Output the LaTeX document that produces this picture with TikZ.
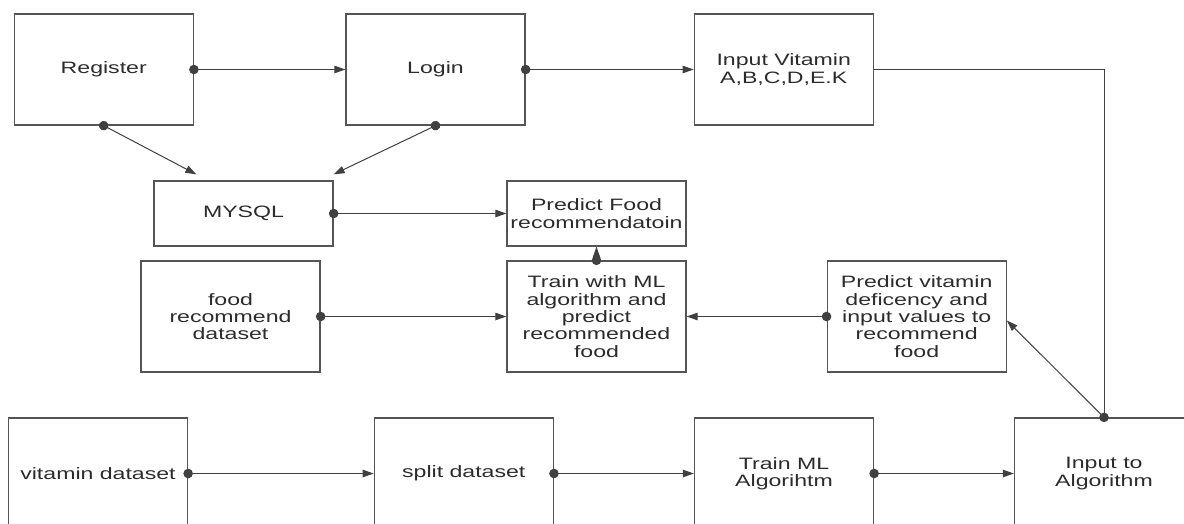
\documentclass[tikz,border=0pt]{standalone}
\usepackage{fontspec}
\setmainfont{Liberation Sans}[FakeStretch=1.4]
\usetikzlibrary{arrows.meta,calc}
\definecolor{linec}{HTML}{404040}
\definecolor{boxc}{HTML}{555555}
\definecolor{txtc}{HTML}{2B2B2B}
\begin{document}
\begin{tikzpicture}[x=1pt,y=-1pt,
  box/.style={draw=boxc, line width=1.3pt, rectangle, minimum width=179pt, minimum height=111pt, inner sep=0pt, align=center, text=txtc, font=\fontsize{16.5}{17.4}\selectfont},
  flatbox/.style={box, minimum height=65pt},
  conn/.style={draw=linec, line width=1pt, {Circle[length=9.5pt]}-{Triangle[length=11pt,width=7.5pt]}, shorten <=-4.75pt},
  plainline/.style={draw=linec, line width=1pt}]
\useasboundingbox (0,0) rectangle (1184,523);
\clip (0,0) rectangle (1184,523);
% top row
\node[box] (reg) at (103.75,69.5) {Register};
\node[box] (login) at (435.5,69.5) {Login};
\node[box] (inv) at (783.75,69.5) {Input Vitamin\\A,B,C,D,E.K};
% second row
\node[flatbox] (mysql) at (243.5,213.5) {MYSQL};
\node[flatbox] (pf) at (596.5,213.5) {Predict Food\\recommendatoin};
% third row
\node[box] (food) at (230.5,316.5) {food\\recommend\\dataset};
\node[box] (train) at (596.5,316.5) {Train with ML\\algorithm and\\predict\\recommended\\food};
\node[box] (pv) at (916.7,316.5) {Predict vitamin\\deficency and\\input values to\\recommend\\food};
% bottom row
\node[box] (vit) at (98,473.5) {vitamin dataset};
\node[box] (split) at (463.8,473.5) {split dataset};
\node[box] (tml) at (784,473.5) {Train ML\\Algorihtm};
\node[box] (ita) at (1104,473.5) {Input to\\Algorithm};
% free ends
\coordinate (m1) at ($(mysql.north west)+(43,-6)$);
\coordinate (m2) at ($(mysql.north east)+(0,-6)$);
\coordinate (pvin) at ($(pv.east)+(0,4)$);
% connectors
\draw[conn] (reg.east) -- (login.west);
\draw[conn] (login.east) -- (inv.west);
\draw[plainline] (inv.east) -| (ita.north);
\draw[conn] (reg.south) -- (m1);
\draw[conn] (login.south) -- (m2);
\draw[conn] (mysql.east) -- (pf.west);
\draw[conn] (train.north) -- (pf.south);
\draw[conn] (food.east) -- (train.west);
\draw[conn] (pv.west) -- (train.east);
\draw[conn] (ita.north) -- (pvin);
\draw[conn] (vit.east) -- (split.west);
\draw[conn] (split.east) -- (tml.west);
\draw[conn] (tml.east) -- (ita.west);
\end{tikzpicture}
\end{document}
